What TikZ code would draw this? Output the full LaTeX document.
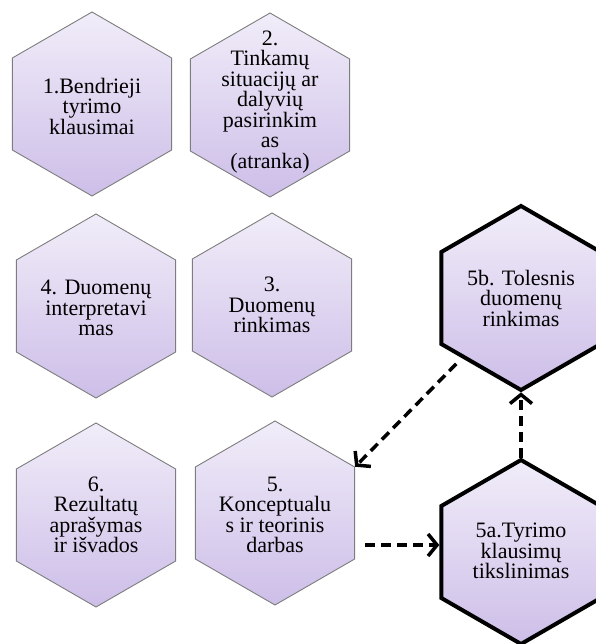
\documentclass[tikz,border=0pt]{standalone}
\usepackage{fontspec}
\setmainfont{Liberation Serif}
\usetikzlibrary{shapes.geometric,arrows.meta,calc}
\definecolor{hextop}{RGB}{241,237,249}
\definecolor{hexbot}{RGB}{205,190,232}
\definecolor{hexline}{RGB}{125,125,125}
\begin{document}
\begin{tikzpicture}[x=1pt,y=-1pt,
  hexbox/.style={regular polygon, regular polygon sides=6, shape border rotate=30,
    minimum size=184pt, inner sep=0pt, draw=hexline, line width=0.9pt,
    top color=hextop, bottom color=hexbot},
  boldhex/.style={hexbox, draw=black, line width=4pt, line join=miter},
  hextext/.style={align=center, font=\fontsize{22}{20.5}\selectfont, inner sep=0pt},
  dasharrow/.style={line width=3.5pt, dash pattern=on 10pt off 6pt,
    -{Straight Barb[length=9pt,width=22pt,line width=3.5pt]}}]
\useasboundingbox (0,0) rectangle (595,644);

\node[hexbox] (h1) at (92,104) {};
\node[hexbox] (h2) at (270,105) {};
\node[hexbox] (h4) at (96,306) {};
\node[hexbox] (h3) at (272,305) {};
\node[hexbox] (h6) at (96,515) {};
\node[hexbox] (h5) at (275,513) {};
\node[boldhex] (h5b) at (521,298) {};
\node[boldhex] (h5a) at (521,552) {};

\node[hextext] (t1) at (92,106) {1.Bendrieji\\tyrimo\\klausimai};
\node[hextext] (t2) at (270,102) {2.\\Tinkamų\\situacijų ar\\dalyvių\\pasirinkim\\as\\(atranka)};
\node[hextext] (t4) at (96,308) {4. Duomenų\\interpretavi\\mas};
\node[hextext] (t3) at (272,305) {3.\\Duomenų\\rinkimas};
\node[hextext] (t6) at (96,515) {6.\\Rezultatų\\aprašymas\\ir išvados};
\node[hextext] (t5) at (275,515) {5.\\Konceptualu\\s ir teorinis\\darbas};
\node[hextext] (t5b) at (521,298) {5b. Tolesnis\\duomenų\\rinkimas};
\node[hextext] (t5a) at (521,551) {5a.Tyrimo\\klausimų\\tikslinimas};

\draw[dasharrow, shorten <=8pt] (h5b) -- (h5.30);
\draw[dasharrow] ([xshift=10pt,yshift=-32pt]h5.east) -- ([yshift=7pt]h5a.west);
\draw[dasharrow] (h5a.90) -- (h5b.270);
\end{tikzpicture}
\end{document}
